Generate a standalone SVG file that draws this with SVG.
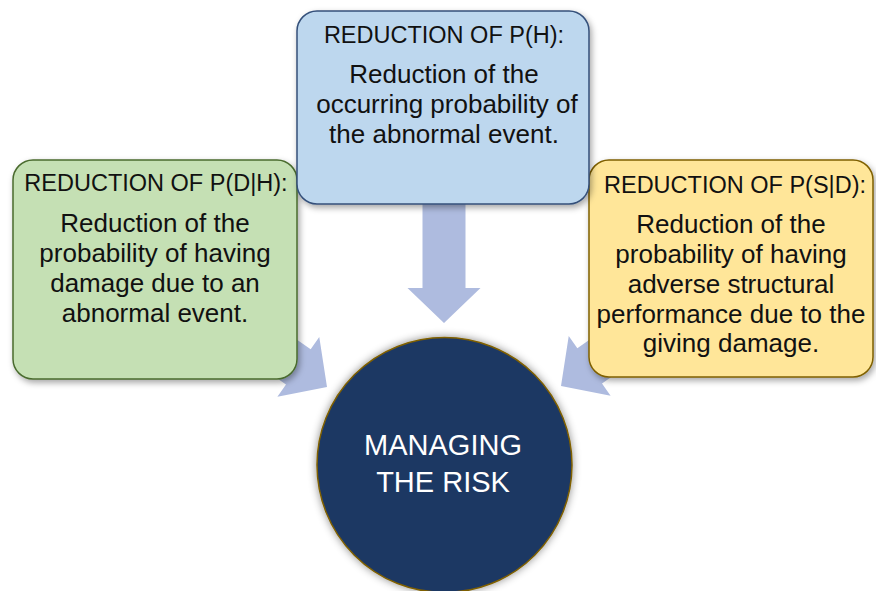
<svg xmlns="http://www.w3.org/2000/svg" width="876" height="591" viewBox="0 0 876 591">
<defs>
  <filter id="shadow" x="-20%" y="-20%" width="140%" height="140%">
    <feDropShadow dx="2" dy="3" stdDeviation="3" flood-color="#000" flood-opacity="0.35"/>
  </filter>
  <filter id="glow" x="-20%" y="-20%" width="140%" height="140%">
    <feDropShadow dx="0" dy="0" stdDeviation="4" flood-color="#000" flood-opacity="0.45"/>
  </filter>
  <path id="arrow" d="M0,0 L-35,-36.5 L-35,-21.5 L-150,-21.5 L-150,21.5 L-35,21.5 L-35,36.5 Z"/>
  <style>
    .arrow { fill: #AEBBDF; }
    .box { stroke-width: 1.5; filter: url(#shadow); }
    .blue { fill: #BDD7EE; stroke: #34507A; }
    .green { fill: #C5E0B4; stroke: #4A6B2E; }
    .yellow { fill: #FFE699; stroke: #7F6000; }
    .title { font-family: "Liberation Sans", Arial, sans-serif; font-size: 23.5px; fill: #111; text-anchor: middle; }
    .body { font-family: "Liberation Sans", Arial, sans-serif; font-size: 26px; fill: #111; text-anchor: middle; }
    .center { font-family: "Liberation Sans", Arial, sans-serif; font-size: 29px; fill: #FFFFFF; text-anchor: middle; }
  </style>
</defs>
<rect width="876" height="591" fill="#FFFFFF"/>
<g id="connectors">
  <use href="#arrow" class="arrow" transform="translate(444,323) rotate(90)"/>
  <use href="#arrow" class="arrow" transform="translate(327,387) rotate(35)"/>
  <use href="#arrow" class="arrow" transform="translate(561,386) rotate(145)"/>
</g>
<g id="node-pdh">
  <rect class="box green" x="13" y="160" width="284" height="219" rx="20"/>
  <text class="title" x="156" y="191">REDUCTION OF P(D|H):</text>
  <text class="body" x="155" y="232">Reduction of the</text>
  <text class="body" x="155" y="262">probability of having</text>
  <text class="body" x="155" y="292">damage due to an</text>
  <text class="body" x="155" y="322">abnormal event.</text>
</g>
<g id="node-psd">
  <rect class="box yellow" x="589" y="160" width="284" height="217" rx="20"/>
  <text class="title" x="735" y="193">REDUCTION OF P(S|D):</text>
  <text class="body" x="731" y="233">Reduction of the</text>
  <text class="body" x="731" y="263">probability of having</text>
  <text class="body" x="731" y="293">adverse structural</text>
  <text class="body" x="731" y="323">performance due to the</text>
  <text class="body" x="731" y="352">giving damage.</text>
</g>
<g id="node-ph">
  <rect class="box blue" x="297" y="11" width="292" height="193" rx="20"/>
  <text class="title" x="444" y="43">REDUCTION OF P(H):</text>
  <text class="body" x="444" y="83">Reduction of the</text>
  <text class="body" x="447" y="113">occurring probability of</text>
  <text class="body" x="444" y="143">the abnormal event.</text>
</g>
<g id="node-risk">
  <circle cx="444.5" cy="465" r="127.5" fill="#1F3864" stroke="#7F6000" stroke-width="1.5" filter="url(#glow)"/>
  <text class="center" x="443" y="455">MANAGING</text>
  <text class="center" x="443" y="492">THE RISK</text>
</g>
</svg>
